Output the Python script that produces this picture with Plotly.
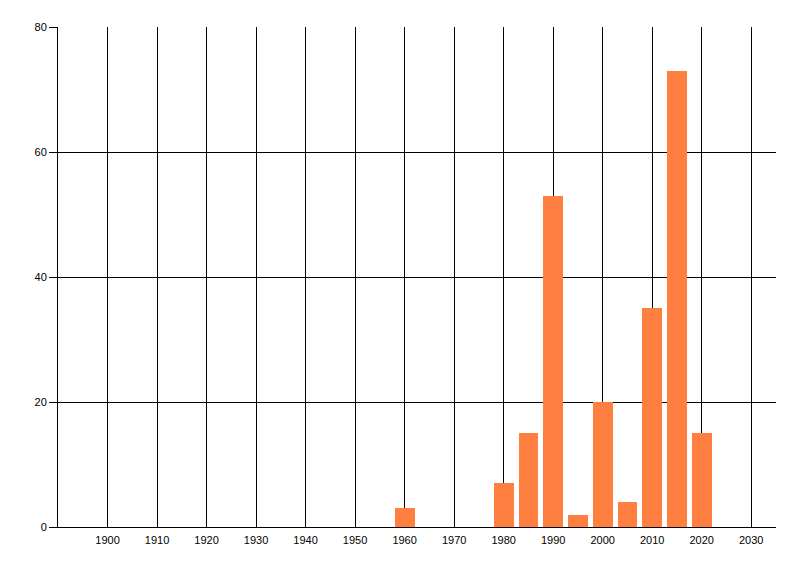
import plotly.graph_objects as go

years = [1960, 1980, 1985, 1990, 1995, 2000, 2005, 2010, 2015, 2020]
counts = [3, 7, 15, 53, 2, 20, 4, 35, 73, 15]
x_ticks = list(range(1900, 2031, 10))
y_ticks = [0, 20, 40, 60, 80]

fig = go.Figure(go.Bar(x=years, y=counts, width=4, marker_color="#FF7F41",
                       marker_line_width=0))

fig.update_layout(
    width=792, height=568,
    margin=dict(l=50, r=24, t=19, b=49),
    paper_bgcolor="white", plot_bgcolor="white",
    font=dict(family="Liberation Sans", size=11, color="black"),
    showlegend=False,
    bargap=0,
)
fig.update_xaxes(range=[1890, 2035], tickvals=x_ticks, ticktext=[str(t) for t in x_ticks],
                 showgrid=True, gridcolor="black", gridwidth=1,
                 showline=True, linecolor="black", linewidth=1,
                 ticks="", ticklabelstandoff=3, zeroline=False, fixedrange=True)
fig.update_yaxes(range=[0, 80], tickvals=y_ticks, showgrid=True, gridcolor="black", gridwidth=1,
                 showline=True, linecolor="black", linewidth=1,
                 ticks="outside", ticklen=8, tickcolor="black", zeroline=False)

fig.write_html("out.html")
